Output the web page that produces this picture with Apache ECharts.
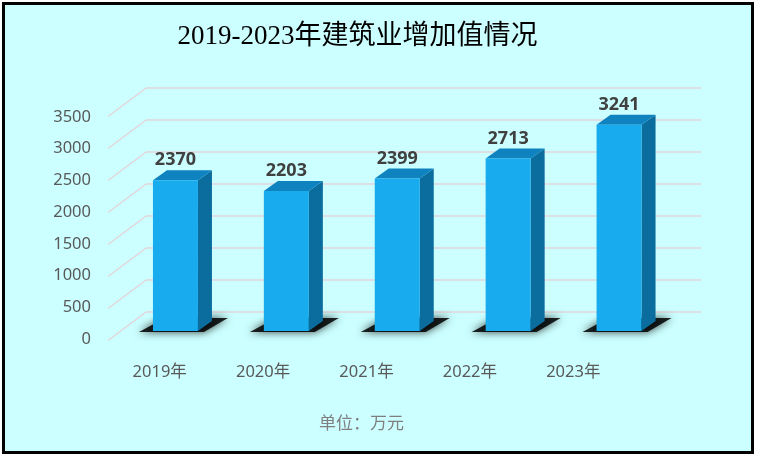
<!DOCTYPE html>
<html>
<head>
<meta charset="utf-8">
<script src="https://cdn.jsdelivr.net/npm/echarts@6/dist/echarts.min.js"></script>
<style>
  html, body { margin: 0; padding: 0; background: #fff; }
  #frame { position: absolute; left: 2px; top: 2px; width: 752px; height: 452px; box-sizing: border-box; border: 3px solid #000; background: #ccffff; }
  #chart { position: absolute; left: 0; top: 0; width: 757px; height: 457px; }
</style>
</head>
<body>
<div id="frame"></div>
<div id="chart"></div>
<script>
// 数据
var years = ['2019年', '2020年', '2021年', '2022年', '2023年']
var values = [2370, 2203, 2399, 2713, 3241]
var yTicks = [0, 500, 1000, 1500, 2000, 2500, 3000, 3500]

var chart = echarts.init(document.getElementById('chart'))

// 立体柱子：正面 + 侧面 + 顶面 + 底部阴影
function renderBar(params, api) {
  var i = api.value(0)
  var v = api.value(1)
  var top = api.coord([i, v])
  var base = api.coord([i, 0])
  var w = 45, dx = 14, dy = 10
  var x0 = top[0] - w / 2, x1 = top[0] + w / 2
  var yt = top[1], yb = base[1]
  return {
    type: 'group',
    children: [
      {
        type: 'polygon',
        shape: { points: [[x0 - 14, yb + 1], [x1 + 6, yb + 1], [x1 + 30, yb - 13], [x0 + 12, yb - 13]] },
        style: { fill: 'rgba(0,0,0,0.85)', shadowBlur: 8, shadowColor: 'rgba(0,0,0,0.9)' }
      },
      {
        type: 'polygon',
        shape: { points: [[x1, yt], [x1 + dx, yt - dy], [x1 + dx, yb - dy], [x1, yb]] },
        style: { fill: '#0b6d9e' }
      },
      {
        type: 'polygon',
        shape: { points: [[x0, yt], [x0 + dx, yt - dy], [x1 + dx, yt - dy], [x1, yt]] },
        style: { fill: '#0e83bf' }
      },
      {
        type: 'rect',
        shape: { x: x0, y: yt, width: w, height: yb - yt },
        style: { fill: '#18abee' }
      },
      {
        type: 'text',
        x: top[0],
        y: yt - 20,
        style: {
          text: String(v),
          textAlign: 'center',
          textVerticalAlign: 'middle',
          fill: '#404040',
          font: 'bold 18px "Noto Sans", "Noto Sans CJK SC", sans-serif'
        }
      }
    ]
  }
}

// 背景墙网格的斜线
function renderDiag(params, api) {
  var p = api.coord([0, api.value(1)])
  return {
    type: 'line',
    shape: { x1: p[0] - 38, y1: p[1] + 28.5, x2: p[0], y2: p[1] },
    style: { stroke: '#e3d5d8', lineWidth: 1.5 }
  }
}

var labelFont = { fontFamily: '"Noto Sans", "Noto Sans CJK SC", sans-serif', fontSize: 16.5, color: '#595959' }

var option = {
  animation: false,
  grid: [
    { left: 146, right: 56, top: 88, bottom: 145 },
    { left: 108, right: 132, top: 117, bottom: 118 },
    { left: 120, right: 82.5, top: 108.4, bottom: 126 }
  ],
  xAxis: [
    { gridIndex: 0, type: 'value', min: 0, max: 1, show: false },
    {
      gridIndex: 1, type: 'category', data: years,
      axisLine: { show: false }, axisTick: { show: false },
      axisLabel: Object.assign({ margin: 25 }, labelFont)
    },
    { gridIndex: 2, type: 'category', data: years, show: false }
  ],
  yAxis: [
    {
      gridIndex: 0, type: 'value', min: 0, max: 3500, interval: 500,
      axisLine: { show: false }, axisTick: { show: false }, axisLabel: { show: false },
      splitLine: { lineStyle: { color: '#e3d5d8', width: 1.5 } }
    },
    {
      gridIndex: 1, type: 'value', min: 0, max: 3500, interval: 500,
      axisLine: { show: false }, axisTick: { show: false }, splitLine: { show: false },
      axisLabel: Object.assign({ margin: 17, formatter: function (v) { return String(v) } }, labelFont)
    },
    { gridIndex: 2, type: 'value', min: 0, max: 3500, show: false }
  ],
  graphic: [
    {
      type: 'text', x: 357.5, y: 37,
      style: {
        text: '2019-2023年建筑业增加值情况',
        textAlign: 'center', textVerticalAlign: 'middle',
        fill: '#000', font: '27px "Liberation Serif", "Noto Sans CJK SC", serif'
      }
    },
    {
      type: 'text', x: 361.5, y: 423,
      style: {
        text: '单位：万元',
        textAlign: 'center', textVerticalAlign: 'middle',
        fill: '#7f7f7f', font: '17px "Noto Sans CJK SC", sans-serif'
      }
    }
  ],
  series: [
    {
      type: 'custom', xAxisIndex: 0, yAxisIndex: 0, silent: true,
      renderItem: renderDiag,
      data: yTicks.map(function (v) { return [0, v] })
    },
    {
      type: 'custom', xAxisIndex: 2, yAxisIndex: 2, silent: true,
      renderItem: renderBar,
      encode: { x: 0, y: 1 },
      data: values.map(function (v, i) { return [i, v] })
    }
  ]
}
chart.setOption(option)
</script>
</body>
</html>
